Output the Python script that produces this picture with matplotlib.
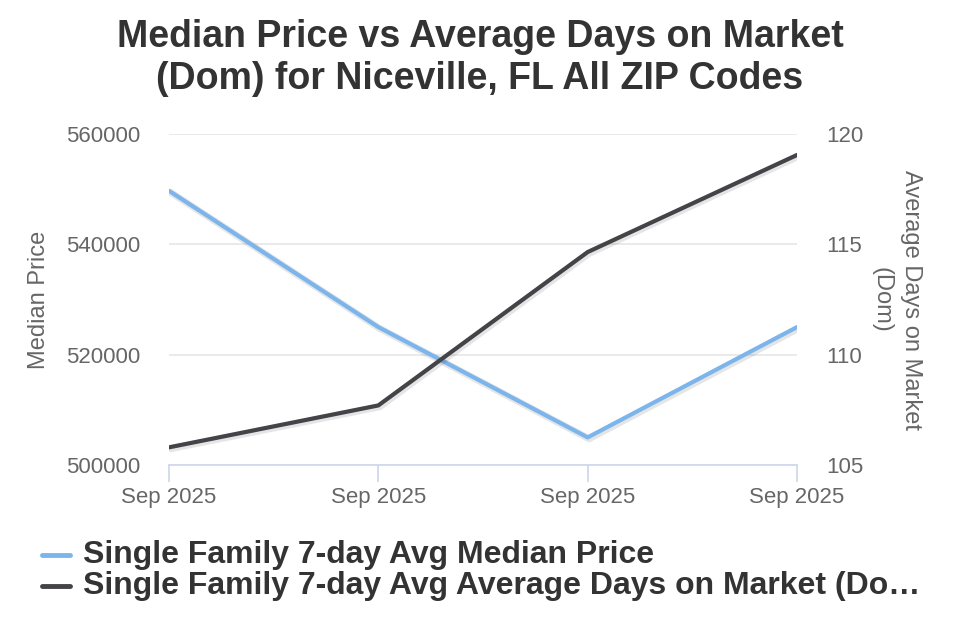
import matplotlib
matplotlib.use("Agg")
import matplotlib.pyplot as plt
import matplotlib.patheffects as pe
from matplotlib.lines import Line2D

plt.rcParams['font.family'] = ['Liberation Sans', 'DejaVu Sans']

# data
dates = ['Sep 2025', 'Sep 2025', 'Sep 2025', 'Sep 2025']
median_price = [549700, 525000, 505000, 525000]
avg_dom = [105.8, 107.7, 114.65, 119.05]
series_names = ['Single Family 7-day Avg Median Price',
                'Single Family 7-day Avg Average Days on Market (Do\u2026']

color_price = '#7cb5ec'
color_dom = '#434348'
text_col = '#666666'

W, H = 960, 640
fig = plt.figure(figsize=(9.6, 6.4), dpi=100)
ax = fig.add_axes([169/W, 1 - 465/H, (797-169)/W, (465-134)/H])
ax2 = ax.twinx()

x = list(range(len(dates)))
shadow = [pe.SimpleLineShadow(offset=(1, -1), shadow_color='black', alpha=0.1, linewidth=5), pe.Normal()]
ax.plot(x, median_price, color=color_price, lw=3, solid_capstyle='round', path_effects=shadow, zorder=3)
ax2.plot(x, avg_dom, color=color_dom, lw=3, solid_capstyle='round', path_effects=shadow, zorder=3)

ax.set_xlim(0, 3)
ax.set_ylim(500000, 560000)
ax2.set_ylim(105, 120)
ax.set_yticks([500000, 520000, 540000, 560000])
ax2.set_yticks([105, 110, 115, 120])
ax.set_xticks(x)
ax.set_xticklabels(dates)

for a in (ax, ax2):
    for s in a.spines.values():
        s.set_visible(False)
ax.spines['bottom'].set_visible(True)
ax.spines['bottom'].set_color('#ccd6eb')
ax.spines['bottom'].set_linewidth(1.2)

ax.grid(axis='y', color='#e6e6e6', lw=1.2)
ax.set_axisbelow(True)
ax.tick_params(axis='y', length=0, labelsize=16, labelcolor=text_col, pad=21)
ax.tick_params(axis='x', length=12, color='#ccd6eb', width=1.2, labelsize=16, labelcolor=text_col, pad=4)
ax2.tick_params(axis='y', length=0, labelsize=16, labelcolor=text_col, pad=21)

ax.set_ylabel('Median Price', fontsize=17, color=text_col, labelpad=11)
ax2.set_ylabel('Average Days on Market\n(Dom)', fontsize=17, color=text_col, rotation=270,
               labelpad=42, linespacing=1.45)

fig.text(0.5, 1 - 37/H, 'Median Price vs Average Days on Market', ha='center', va='center',
         fontsize=27, fontweight='bold', color='#333333')
fig.text(0.5, 1 - 79/H, '(Dom) for Niceville, FL All ZIP Codes', ha='center', va='center',
         fontsize=27, fontweight='bold', color='#333333')

# legend drawn by hand to match the spacing
for i, (name, col) in enumerate(zip(series_names, [color_price, color_dom])):
    yy = 1 - (555 + i * 31) / H
    fig.add_artist(Line2D([42/W, 70/W], [yy, yy], color=col, lw=3.5, solid_capstyle='round',
                          transform=fig.transFigure))
    fig.text(83/W, yy, name, ha='left', va='center', fontsize=23, fontweight='bold', color='#333333')

fig.savefig('out.png', dpi=100)
